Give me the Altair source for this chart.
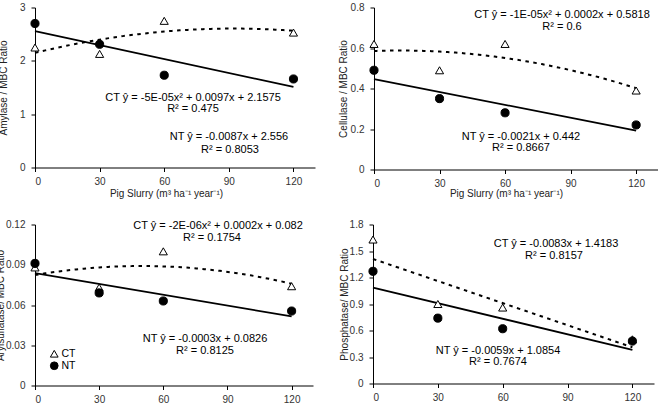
import altair as alt
import pandas as pd

# Pig slurry doses (m3 ha-1 year-1) and tillage systems
DOSES = [0, 30, 60, 120]
TILLAGE = ["CT", "NT"]

# Enzyme activity / microbial biomass carbon ratios
amylase_ct = [2.25, 2.13, 2.75, 2.53]
amylase_nt = [2.70, 2.31, 1.73, 1.66]
cellulase_ct = [0.62, 0.49, 0.62, 0.39]
cellulase_nt = [0.49, 0.35, 0.28, 0.22]
arylsulfatase_ct = [0.088, 0.073, 0.100, 0.074]
arylsulfatase_nt = [0.091, 0.069, 0.063, 0.0555]
phosphatase_ct = [1.63, 0.90, 0.86, 0.50]
phosphatase_nt = [1.27, 0.74, 0.62, 0.48]

# Axis ticks
x_ticks = [0, 30, 60, 90, 120]
amylase_ticks = [0, 1, 2, 3]
cellulase_ticks = [0, 0.2, 0.4, 0.6, 0.8]
arylsulfatase_ticks = [0, 0.03, 0.06, 0.09, 0.12]
phosphatase_ticks = [0, 0.3, 0.6, 0.9, 1.2, 1.5, 1.8]

X_TITLE = "Pig Slurry (m³ ha⁻¹ year⁻¹)"

# Fitted equations: (text, x px, y px) inside each plot area
amylase_notes = [
    ("CT ŷ = -5E-05x² + 0.0097x + 2.1575", 158, 90),
    ("R² = 0.475", 158, 101),
    ("NT ŷ = -0.0087x + 2.556", 194, 129),
    ("R² = 0.8053", 195, 142),
]
cellulase_notes = [
    ("CT ŷ = -1E-05x² + 0.0002x + 0.5818", 188, 7),
    ("R² = 0.6", 188, 19),
    ("NT ŷ = -0.0021x + 0.442", 147, 129),
    ("R² = 0.8667", 147, 140.5),
]
arylsulfatase_notes = [
    ("CT ŷ = -2E-06x² + 0.0002x + 0.082", 183, 1),
    ("R² = 0.1754", 177, 13),
    ("NT ŷ = -0.0003x + 0.0826", 170, 114),
    ("R² = 0.8125", 170, 126),
]
phosphatase_notes = [
    ("CT ŷ = -0.0083x + 1.4183", 183, 19),
    ("R² = 0.8157", 181, 31.5),
    ("NT ŷ = -0.0059x + 1.0854", 125, 126),
    ("R² = 0.7674", 125, 137.5),
]

FONT = "Liberation Sans"


def panel(ct, nt, ct_order, y_ticks, decimals, y_title, width, height,
          y_title_x, x_title_x, x_title_y, notes, legend=None):
    df = pd.DataFrame({
        "Dose": DOSES + DOSES,
        "Ratio": ct + nt,
        "Tillage": ["CT"] * len(DOSES) + ["NT"] * len(DOSES),
    })
    x_enc = alt.X(
        "Dose:Q",
        scale=alt.Scale(domain=[0, 130], nice=False, zero=False),
        axis=alt.Axis(values=x_ticks, title=X_TITLE, titleX=x_title_x,
                      titleY=x_title_y, titleBaseline="middle",
                      titleAlign="center", labelPadding=5),
    )
    y_enc = alt.Y(
        "Ratio:Q",
        scale=alt.Scale(domain=[0, y_ticks[-1]], nice=False),
        axis=alt.Axis(values=y_ticks,
                      labelExpr=f"datum.value == 0 ? '0' : format(datum.value, '.{decimals}f')",
                      title=y_title,
                      titleX=y_title_x, titleY=height / 2,
                      titleBaseline="middle", titleAlign="center",
                      labelPadding=6),
    )
    base = alt.Chart(df)

    ct_fit = base.transform_filter(alt.datum.Tillage == "CT")
    if ct_order == 2:
        ct_fit = ct_fit.transform_regression(
            "Dose", "Ratio", method="poly", order=2, extent=[0, 120])
    else:
        ct_fit = ct_fit.transform_regression(
            "Dose", "Ratio", method="linear", extent=[0, 120])
    ct_line = ct_fit.mark_line(
        color="black", strokeWidth=2, strokeDash=[3.5, 4.5]
    ).encode(x=x_enc, y=y_enc)

    nt_line = base.transform_filter(alt.datum.Tillage == "NT").transform_regression(
        "Dose", "Ratio", method="linear", extent=[0, 120]
    ).mark_line(color="black", strokeWidth=1.8).encode(x=x_enc, y=y_enc)

    points = base.mark_point(
        filled=True, strokeWidth=1, opacity=1, size=66
    ).encode(
        x=x_enc,
        y=y_enc,
        shape=alt.Shape("Tillage:N",
                        scale=alt.Scale(domain=TILLAGE,
                                        range=["triangle-up", "circle"]),
                        legend=legend),
        fill=alt.Fill("Tillage:N",
                      scale=alt.Scale(domain=TILLAGE, range=["white", "black"]),
                      legend=legend),
        stroke=alt.Stroke("Tillage:N",
                          scale=alt.Scale(domain=TILLAGE, range=["black", "black"]),
                          legend=legend),
    )

    texts = [
        alt.Chart(pd.DataFrame({"t": [t]})).mark_text(
            font=FONT, fontSize=11, color="black",
            align="center", baseline="middle",
        ).encode(text="t:N", x=alt.value(px), y=alt.value(py))
        for t, px, py in notes
    ]

    return alt.layer(ct_line, nt_line, points, *texts).properties(
        width=width, height=height
    )


legend_box = alt.Legend(
    orient="none", legendX=14, legendY=124, title=None, direction="vertical",
    symbolSize=60, symbolStrokeWidth=1,
    labelFont=FONT, labelFontSize=10.5, labelColor="black",
    labelOffset=2, rowPadding=0, padding=0,
)

p1 = panel(amylase_ct, amylase_nt, 2, amylase_ticks, 0, "Amylase / MBC Ratio",
           280, 160, -32, 131, 26, amylase_notes)
p2 = panel(cellulase_ct, cellulase_nt, 2, cellulase_ticks, 1,
           "Cellulase / MBC Ratio", 284, 162, -31, 132, 24, cellulase_notes)
p3 = panel(arylsulfatase_ct, arylsulfatase_nt, 2, arylsulfatase_ticks, 2,
           "Arylsulfatase/ MBC Ratio", 278, 161, -35, 133, 27,
           arylsulfatase_notes, legend=legend_box)
p4 = panel(phosphatase_ct, phosphatase_nt, 1, phosphatase_ticks, 1,
           "Phosphatase/ MBC Ratio", 281, 159, -29, 143, 27, phosphatase_notes)

indep = dict(shape="independent", fill="independent", stroke="independent")

top = alt.hconcat(p1, p2, spacing=23).resolve_scale(**indep).resolve_legend(**indep)
bottom = alt.hconcat(p3, p4, spacing=26).resolve_scale(**indep).resolve_legend(**indep)

chart = alt.vconcat(top, bottom, spacing=21).resolve_scale(**indep).resolve_legend(
    **indep
).properties(
    padding={"left": -5, "top": 2.5, "right": 0, "bottom": -14}
).configure_view(
    stroke=None
).configure_axis(
    grid=False,
    domainColor="black",
    domainWidth=1,
    tickColor="black",
    tickWidth=1,
    tickSize=4,
    labelColor="#333333",
    titleColor="#222222",
    labelFont=FONT,
    titleFont=FONT,
    labelFontSize=10,
    titleFontSize=10,
    titleFontWeight="normal",
)

chart.save("out.html", embed_options={"renderer": "svg", "actions": False})
